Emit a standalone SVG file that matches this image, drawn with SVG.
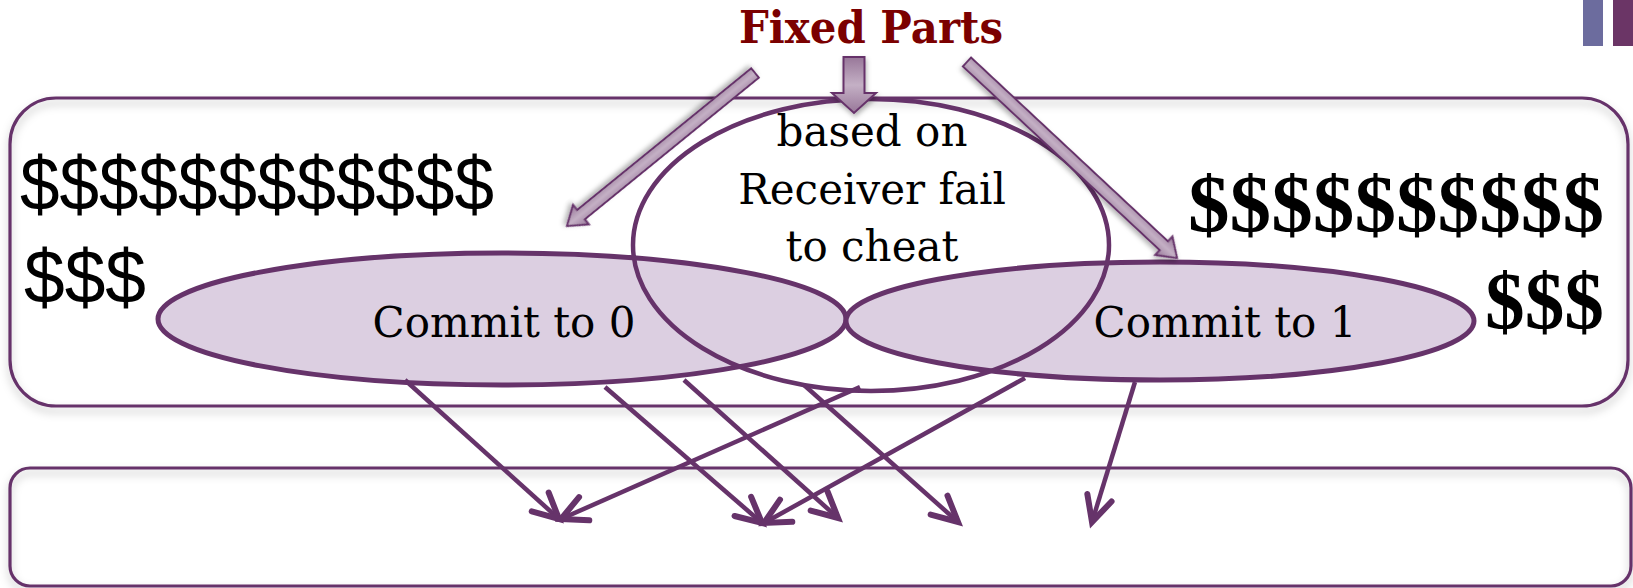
<svg xmlns="http://www.w3.org/2000/svg" width="1633" height="588" viewBox="0 0 1633 588">
<style>
.frame{fill:none;stroke:#66336a;stroke-width:3.2}
.lilac{fill:#dccfe1;stroke:#66336a;stroke-width:5}
.big{fill:none;stroke:#66336a;stroke-width:4.5}
.lbl{font-family:"DejaVu Serif","Liberation Serif",serif;font-size:42px;fill:#000}
.dl{font-family:"Liberation Sans",Arial,sans-serif;font-size:76px;fill:#000}
.dr{font-family:"Liberation Serif","DejaVu Serif",serif;font-size:80px;font-weight:bold;fill:#000}
.conn{stroke:#66336a;stroke-width:4.5;fill:none;marker-end:url(#ah)}
.barrow{fill:url(#ag);stroke:#66336a;stroke-width:2;filter:url(#sh2)}
</style>
<defs>
<filter id="sh" x="-5%" y="-20%" width="110%" height="150%">
<feDropShadow dx="0" dy="5" stdDeviation="4" flood-color="#000" flood-opacity="0.25"/>
</filter>
<filter id="sh2" x="-30%" y="-30%" width="160%" height="160%">
<feDropShadow dx="1" dy="3" stdDeviation="2.5" flood-color="#000" flood-opacity="0.3"/>
</filter>
<linearGradient id="ag" x1="0" y1="0" x2="0" y2="1">
<stop offset="0" stop-color="#987799"/>
<stop offset="0.5" stop-color="#c4b0c5"/>
<stop offset="1" stop-color="#987799"/>
</linearGradient>
<marker id="ah" markerUnits="userSpaceOnUse" markerWidth="40" markerHeight="40" viewBox="-25 -15 30 30" refX="0" refY="0" orient="auto" overflow="visible">
<path d="M-19,-9.5 L0,0 L-19,9.5" fill="none" stroke="#66336a" stroke-width="4.5" stroke-linecap="round"/>
</marker>
</defs>

<g id="deco">
<rect x="1583" y="0" width="20" height="46" fill="#6c6c9e"/>
<rect x="1613" y="0" width="20" height="46" fill="#6b3566"/>
</g>

<g id="main-box">
<rect class="frame" x="10" y="98" width="1618" height="308" rx="46" ry="46" filter="url(#sh)"/>
</g>
<g id="lower-box">
<rect class="frame" x="10" y="468" width="1621" height="118" rx="20" ry="20" filter="url(#sh)"/>
</g>

<g id="commit0">
<ellipse class="lilac" cx="502" cy="319" rx="344" ry="66"/>
<text class="lbl" x="504" y="337" text-anchor="middle">Commit to 0</text>
</g>
<g id="commit1">
<ellipse class="lilac" cx="1160" cy="321" rx="314" ry="59"/>
<text class="lbl" x="1225" y="337" text-anchor="middle">Commit to 1</text>
</g>
<g id="receiver">
<ellipse class="big" cx="871" cy="245" rx="238" ry="146"/>
<text class="lbl" x="872" y="146" text-anchor="middle">based on</text>
<text class="lbl" x="872" y="204" text-anchor="middle">Receiver fail</text>
<text class="lbl" x="872" y="261" text-anchor="middle">to cheat</text>
</g>

<g id="dollars-left">
<text class="dl" x="20" y="210" textLength="474" lengthAdjust="spacingAndGlyphs">$$$$$$$$$$$$</text>
<text class="dl" x="24" y="303" textLength="122" lengthAdjust="spacingAndGlyphs">$$$</text>
</g>
<g id="dollars-right">
<text class="dr" x="1188" y="231" textLength="416" lengthAdjust="spacingAndGlyphs">$$$$$$$$$$</text>
<text class="dr" x="1485" y="328" textLength="119" lengthAdjust="spacingAndGlyphs">$$$</text>
</g>

<g id="connectors">
<line class="conn" x1="405" y1="380" x2="559" y2="519"/>
<line class="conn" x1="860" y1="387" x2="561" y2="519"/>
<line class="conn" x1="605" y1="387" x2="762" y2="523"/>
<line class="conn" x1="684" y1="380" x2="838" y2="518"/>
<line class="conn" x1="1025" y1="378" x2="764" y2="523"/>
<line class="conn" x1="804" y1="385" x2="958" y2="522"/>
<line class="conn" x1="1135" y1="382" x2="1092" y2="522"/>
</g>

<g id="fixed-parts">
<text x="871" y="43" text-anchor="middle" font-family="'DejaVu Serif','Liberation Serif',serif" font-weight="bold" font-size="45" fill="#7b0000" textLength="264" lengthAdjust="spacingAndGlyphs">Fixed Parts</text>
<polygon class="barrow" points="843.5,57 864.5,57 864.5,93 876,93 854,113 832,93 843.5,93"/>
<polygon class="barrow" transform="translate(755,73) rotate(140.86)" points="0,-6 224.4,-6 224.4,-12.5 242.4,0 224.4,12.5 224.4,6 0,6"/>
<polygon class="barrow" transform="translate(967,62) rotate(43.03)" points="0,-6 269.3,-6 269.3,-12.5 287.3,0 269.3,12.5 269.3,6 0,6"/>
</g>
</svg>
